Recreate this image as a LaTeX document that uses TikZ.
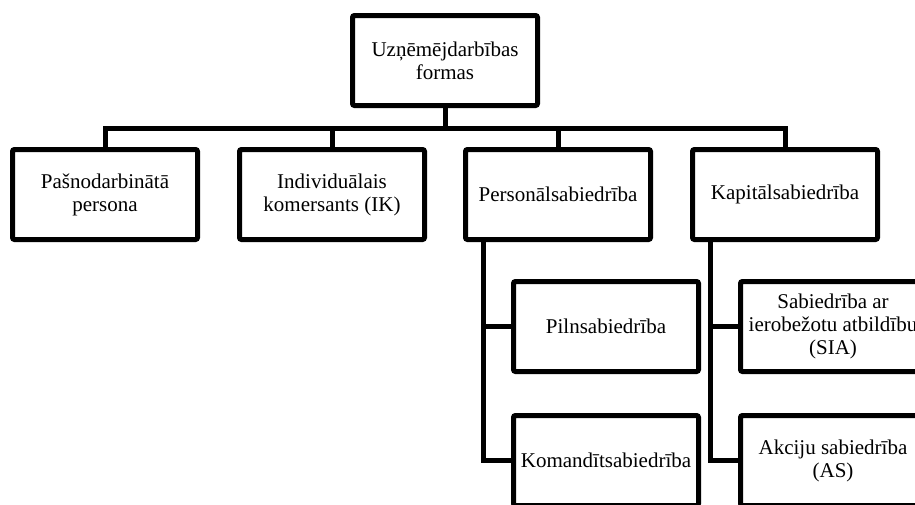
\documentclass[tikz,border=0pt]{standalone}
\usepackage{fontspec}
\setmainfont{Liberation Serif}
\usepackage{tikz}

\begin{document}
\begin{tikzpicture}[x=1pt, y=-1pt,
        box/.style={draw=black, line width=5pt, rounded corners=2pt, minimum width=185pt, minimum height=90pt,
            align=center, inner sep=0pt, font=\fontsize{21}{23}\selectfont},
        link/.style={draw=black, line width=5pt}]
        \useasboundingbox (0,0) rectangle (915,504);
        \clip (0,0) rectangle (915,504);
        %Top of the tree
        \node[box] (forms) at (445,60.5) {Uzņēmējdarbības\\formas};
        \coordinate (bar) at (445,128);

        %First level
        \node[box] (selfemp) at (105,194.5) {Pašnodarbinātā\\persona};
        \node[box] (ik) at (332,194.5) {Individuālais\\komersants (IK)};
        \node[box] (pers) at (558,194.5) {Personālsabiedrība};
        \node[box] (kap) at (785,194.5) {Kapitālsabiedrība};

        %Second level
        \node[box] (piln) at (606,326.5) {Pilnsabiedrība};
        \node[box] (koman) at (606,460.5) {Komandītsabiedrība};
        \node[box] (sia) at (833,326.5) {Sabiedrība ar\\ierobežotu atbildību\\(SIA)};
        \node[box] (as) at (833,460.5) {Akciju sabiedrība\\(AS)};

        %Connectors
        \draw[link] (forms.south) -- (bar);
        \foreach \child in {selfemp, ik, pers, kap} {
            \draw[link] (bar) -| (\child.north);
        }
        \draw[link] ([xshift=20pt]pers.south west) |- (piln.west);
        \draw[link] ([xshift=20pt]pers.south west) |- (koman.west);
        \draw[link] ([xshift=20pt]kap.south west) |- (sia.west);
        \draw[link] ([xshift=20pt]kap.south west) |- (as.west);
    \end{tikzpicture}
\end{document}
